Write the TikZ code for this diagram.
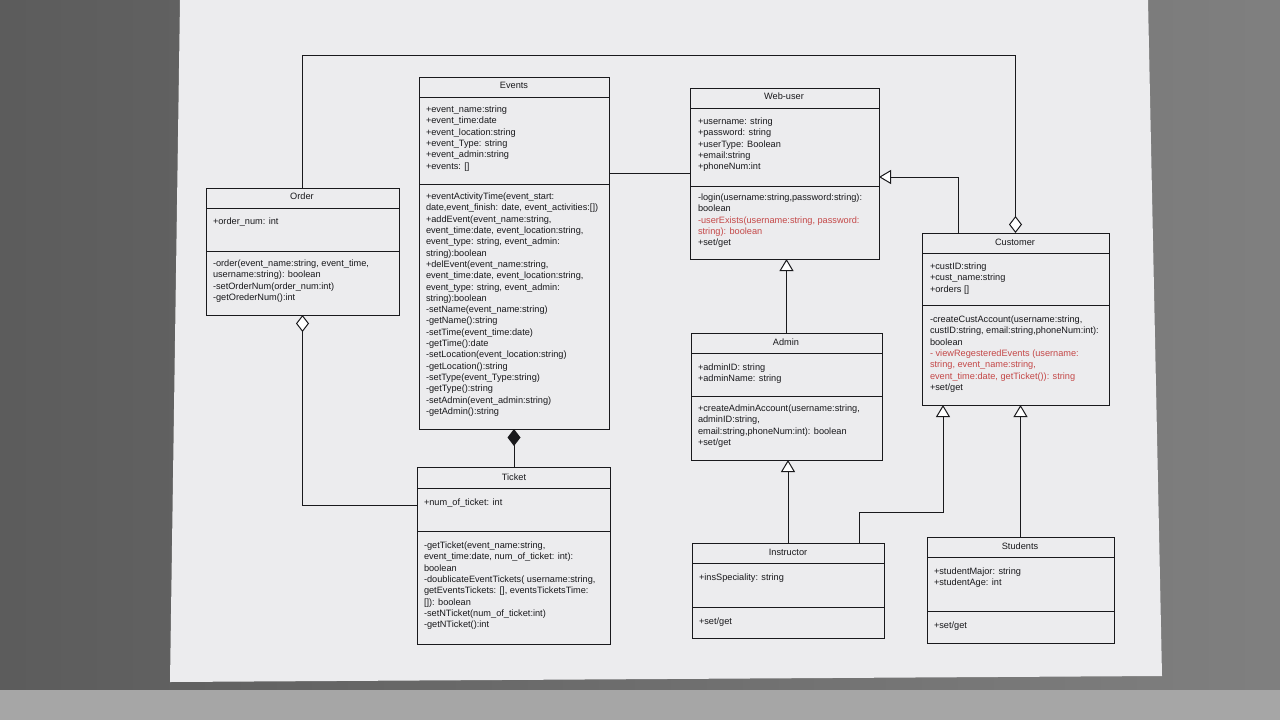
\documentclass[tikz,border=0pt]{standalone}
\usepackage{fontspec}
\setmainfont{Liberation Sans}
\usetikzlibrary{arrows.meta}
\definecolor{umlred}{RGB}{196,72,72}
\definecolor{umlink}{RGB}{25,25,28}
\definecolor{pagebg}{RGB}{236,236,238}

\begin{document}
\begin{tikzpicture}[x=1pt,y=-1pt]
\tikzstyle{every node}=[inner sep=0pt, outer sep=0pt, text=umlink]
\tikzstyle{umlbox}=[draw=umlink, line width=1pt, anchor=north west]
\tikzstyle{title}=[font=\fontsize{9.2}{11}\selectfont]
\tikzstyle{members}=[anchor=north west, align=left, font=\fontsize{9.2}{11.3}\selectfont]
\tikzstyle{sep}=[draw=umlink, line width=1pt]
\tikzstyle{link}=[draw=umlink, line width=1pt]
\tikzstyle{aggregation}=[link, {Diamond[open,length=17pt,width=13pt,fill=white]}-]
\tikzstyle{composition}=[link, {Diamond[length=17pt,width=13pt]}-]
\tikzstyle{generalization}=[link, -{Triangle[open,length=12pt,width=14pt,fill=white]}]
\useasboundingbox (0,0) rectangle (1280,720);
% screen and page
\shade[left color=black!64, right color=black!50] (0,0) rectangle (1280,720);
\fill[black!35] (0,690) rectangle (1280,720);
\fill[pagebg] (180,0) -- (1148,0) -- (1162,676) -- (170,682) -- cycle;

% Order
\node (Order) [umlbox, minimum width=193pt, minimum height=127pt] at (206,188) {};
\draw[sep] (206,208) -- (399,208);
\draw[sep] (206,251) -- (399,251);
\node (Ordertitle) [title] at (302,196) {Order};
\node (Orderattr) [members] at (213,218) {+order\_num: int};
\node (Orderops) [members] at (213,260) {-order(event\_name:string, event\_time,\\
username:string): boolean\\
-setOrderNum(order\_num:int)\\
-getOrederNum():int};

% Events
\node (Events) [umlbox, minimum width=190pt, minimum height=352pt] at (419,77) {};
\draw[sep] (419,97) -- (609,97);
\draw[sep] (419,184) -- (609,184);
\node (Eventstitle) [title] at (514,85) {Events};
\node (Eventsattr) [members] at (426,106) {+event\_name:string\\
+event\_time:date\\
+event\_location:string\\
+event\_Type: string\\
+event\_admin:string\\
+events: []};
\node (Eventsops) [members] at (426,193) {+eventActivityTime(event\_start:\\
date,event\_finish: date, event\_activities:[])\\
+addEvent(event\_name:string,\\
event\_time:date, event\_location:string,\\
event\_type: string, event\_admin:\\
string):boolean\\
+delEvent(event\_name:string,\\
event\_time:date, event\_location:string,\\
event\_type: string, event\_admin:\\
string):boolean\\
-setName(event\_name:string)\\
-getName():string\\
-setTime(event\_time:date)\\
-getTime():date\\
-setLocation(event\_location:string)\\
-getLocation():string\\
-setType(event\_Type:string)\\
-getType():string\\
-setAdmin(event\_admin:string)\\
-getAdmin():string};

% Ticket
\node (Ticket) [umlbox, minimum width=193pt, minimum height=177pt] at (417,467) {};
\draw[sep] (417,488) -- (610,488);
\draw[sep] (417,531) -- (610,531);
\node (Tickettitle) [title] at (514,477) {Ticket};
\node (Ticketattr) [members] at (424,499) {+num\_of\_ticket: int};
\node (Ticketops) [members] at (424,542) {-getTicket(event\_name:string,\\
event\_time:date, num\_of\_ticket: int):\\
boolean\\
-doublicateEventTickets( username:string,\\
getEventsTickets: [], eventsTicketsTime:\\
{[]}): boolean\\
-setNTicket(num\_of\_ticket:int)\\
-getNTicket():int};

% Web-user
\node (Webuser) [umlbox, minimum width=189pt, minimum height=171pt] at (690,88) {};
\draw[sep] (690,108) -- (879,108);
\draw[sep] (690,186) -- (879,186);
\node (Webusertitle) [title] at (784,96) {Web-user};
\node (Webuserattr) [members] at (698,118) {+username: string\\
+password: string\\
+userType: Boolean\\
+email:string\\
+phoneNum:int};
\node (Webuserops) [members] at (698,194) {-login(username:string,password:string):\\
boolean\\
\textcolor{umlred}{-userExists(username:string, password:}\\
\textcolor{umlred}{string): boolean}\\
+set/get};

% Admin
\node (Admin) [umlbox, minimum width=191pt, minimum height=127pt] at (691,333) {};
\draw[sep] (691,353) -- (882,353);
\draw[sep] (691,396) -- (882,396);
\node (Admintitle) [title] at (786,342) {Admin};
\node (Adminattr) [members] at (698,364) {+adminID: string\\
+adminName: string};
\node (Adminops) [members] at (698,405) {+createAdminAccount(username:string,\\
adminID:string,\\
email:string,phoneNum:int): boolean\\
+set/get};

% Customer
\node (Customer) [umlbox, minimum width=187pt, minimum height=172pt] at (922,233) {};
\draw[sep] (922,253) -- (1109,253);
\draw[sep] (922,305) -- (1109,305);
\node (Customertitle) [title] at (1015,242) {Customer};
\node (Customerattr) [members] at (930,263) {+custID:string\\
+cust\_name:string\\
+orders []};
\node (Customerops) [members] at (930,316) {-createCustAccount(username:string,\\
custID:string, email:string,phoneNum:int):\\
boolean\\
\textcolor{umlred}{- viewRegesteredEvents (username:}\\
\textcolor{umlred}{string, event\_name:string,}\\
\textcolor{umlred}{event\_time:date, getTicket()): string}\\
+set/get};

% Instructor
\node (Instructor) [umlbox, minimum width=192pt, minimum height=95pt] at (692,543) {};
\draw[sep] (692,563) -- (884,563);
\draw[sep] (692,607) -- (884,607);
\node (Instructortitle) [title] at (788,552) {Instructor};
\node (Instructorattr) [members] at (699,574) {+insSpeciality: string};
\node (Instructorops) [members] at (699,618) {+set/get};

% Students
\node (Students) [umlbox, minimum width=187pt, minimum height=106pt] at (927,537) {};
\draw[sep] (927,557) -- (1114,557);
\draw[sep] (927,611) -- (1114,611);
\node (Studentstitle) [title] at (1020,546) {Students};
\node (Studentsattr) [members] at (934,568) {+studentMajor: string\\
+studentAge: int};
\node (Studentsops) [members] at (934,622) {+set/get};

% links
\coordinate (evlink) at ([yshift=-96pt]Events.north east);
\coordinate (wulink) at ([yshift=-89pt]Webuser.north east);
\coordinate (cuup) at ([xshift=36pt]Customer.north west);
\coordinate (cudown) at ([xshift=21pt]Customer.south west);
\coordinate (inup) at ([xshift=167pt]Instructor.north west);
\draw[link] (evlink) -- (evlink -| Webuser.west);
\draw[aggregation] (Customer.north) |- ([yshift=133pt]Order.north) -- (Order.north);
\draw[aggregation] (Order.south) |- ([yshift=-38pt]Ticket.north west);
\draw[composition] (Events.south) -- (Events.south |- Ticket.north);
\draw[generalization] (cuup) |- (wulink);
\draw[generalization] (Admin.north) -- (Admin.north |- Webuser.south);
\draw[generalization] (Instructor.north) -- (Instructor.north |- Admin.south);
\draw[generalization] (inup) |- ([yshift=-107pt]cudown) -- (cudown);
\draw[generalization] (Students.north) -- (Students.north |- Customer.south);
\end{tikzpicture}
\end{document}
